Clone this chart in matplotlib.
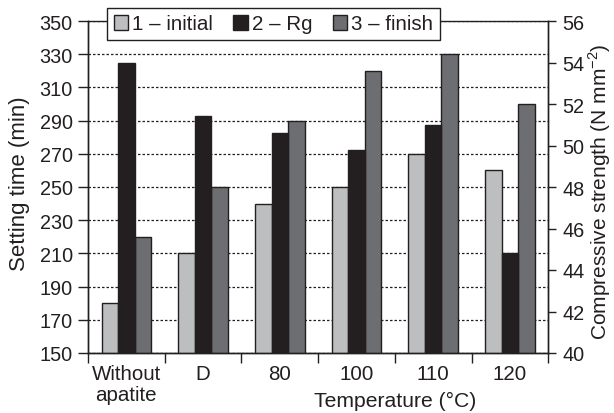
import matplotlib
matplotlib.use("Agg")
import matplotlib.pyplot as plt
import numpy as np

categories = ["Without\napatite", "D", "80", "100", "110", "120"]
initial = [180, 210, 240, 250, 270, 260]          # setting time (min)
finish = [220, 250, 290, 320, 330, 300]           # setting time (min)
rg = [54.0, 51.4, 50.6, 49.8, 51.0, 44.8]         # compressive strength (N mm^-2)
labels = ["1 \u2013 initial", "2 \u2013 Rg", "3 \u2013 finish"]
left_ticks = list(range(150, 351, 20))
right_ticks = list(range(40, 57, 2))

c_init = "#bcbec0"
c_rg = "#231f20"
c_fin = "#6d6e71"
ink = "#231f20"

plt.rcParams['font.family'] = ['Liberation Sans', 'DejaVu Sans']
plt.rcParams['font.size'] = 14.3
plt.rcParams['text.color'] = ink
plt.rcParams['axes.edgecolor'] = ink
plt.rcParams['xtick.color'] = ink
plt.rcParams['ytick.color'] = ink

fig = plt.figure(figsize=(6.14, 4.14), dpi=100)
ax = fig.add_axes([88/614, 1-354/414, (548.3-88)/614, 332/414])
ax2 = ax.twinx()

x = np.arange(len(categories))
w = 0.215
b1 = ax.bar(x - w, [v - 150 for v in initial], w, bottom=150, color=c_init, edgecolor=ink, linewidth=1.0, zorder=3)
b3 = ax.bar(x + w, [v - 150 for v in finish], w, bottom=150, color=c_fin, edgecolor=ink, linewidth=1.0, zorder=3)
b2 = ax2.bar(x, [v - 40 for v in rg], w, bottom=40, color=c_rg, edgecolor=ink, linewidth=1.0, zorder=3)

ax.set_xlim(-0.5, len(categories) - 0.5)
ax.set_ylim(150, 350)
ax2.set_ylim(40, 56)
ax.set_yticks(left_ticks)
ax2.set_yticks(right_ticks)

ax.yaxis.grid(True, linestyle=(0, (2, 1.6)), color=ink, linewidth=0.9)
ax.set_axisbelow(True)

ax.set_xticks(x)
ax.set_xticklabels(categories, linespacing=1.15, fontsize=14.8)
ax.set_xticks(np.arange(-0.5, len(categories), 1.0), minor=True)
ax.tick_params(axis='x', which='major', length=0, pad=8)
ax.tick_params(axis='x', which='minor', length=7, width=1.0, direction='out')
ax.tick_params(axis='y', length=7, width=1.0, direction='out', pad=4)
ax2.tick_params(axis='y', length=6, width=1.0, direction='out', pad=4)

for a in (ax, ax2):
    for s in a.spines.values():
        s.set_linewidth(1.0)
        s.set_color(ink)
ax.spines['top'].set_visible(False)

ax.text(0.667, -(401-354)/332, "Temperature (\u00b0C)", transform=ax.transAxes,
        ha='center', va='center', fontsize=15.2)
fig.text(20/614, 1-184/414, "Setting time (min)", rotation=90, ha='center', va='center', fontsize=16)
fig.text(613/614, 1-192/414, "Compressive strength (N mm$^{\\mathregular{-2}}$)", rotation=90,
         ha='right', va='center', fontsize=15)

leg = ax2.legend([b1, b2, b3], labels, loc='center', bbox_to_anchor=(273.5/614, 1-25/414),
                 bbox_transform=fig.transFigure, ncol=3, frameon=True, fancybox=False,
                 edgecolor=ink, framealpha=1, handlelength=0.7, handleheight=0.7,
                 handletextpad=0.2, columnspacing=1.0, borderpad=0.3, borderaxespad=0, fontsize=14.8)
leg.get_frame().set_linewidth(1.0)

fig.savefig("out.png", dpi=100)
